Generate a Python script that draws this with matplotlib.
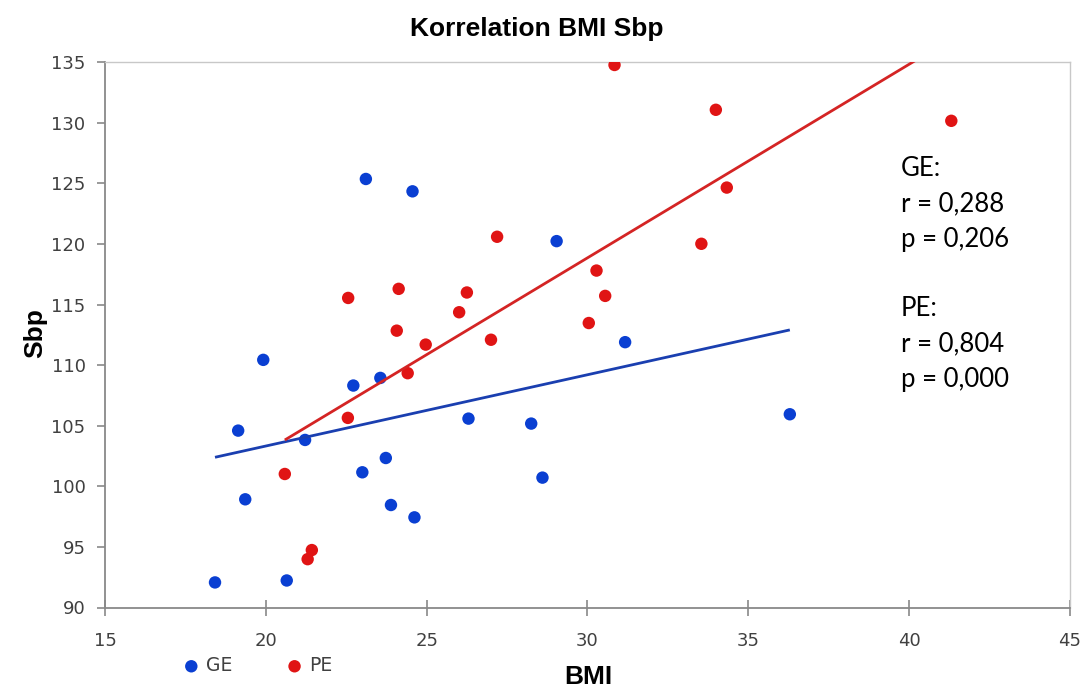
import numpy as np
import matplotlib
matplotlib.use("Agg")
import matplotlib.pyplot as plt

# ---- data ----
ge_bmi = [18.42, 19.14, 19.36, 19.92, 20.65, 21.22, 22.72, 23.00, 23.56, 23.73,
          23.89, 24.62, 26.30, 28.25, 28.60, 23.11, 24.56, 29.04, 31.17, 36.29]
ge_sbp = [92.07, 104.6, 98.93, 110.44, 92.23, 103.83, 108.32, 101.16, 108.95, 102.34,
          98.46, 97.44, 105.59, 105.18, 100.72, 125.37, 124.35, 120.24, 111.9, 105.95]

pe_bmi = [20.59, 21.30, 21.43, 22.55, 24.41, 24.97, 27.19, 22.56, 24.13, 26.25,
          26.01, 24.07, 27.00, 30.84, 33.99, 41.31, 34.33, 33.54, 30.28, 30.55, 30.04]
pe_sbp = [101.02, 93.99, 94.74, 105.65, 109.34, 111.7, 120.6, 115.55, 116.3, 116.0,
          114.37, 112.85, 112.1, 134.78, 131.08, 130.17, 124.66, 120.02, 117.81, 115.72, 113.48]

x_ticks = [15, 20, 25, 30, 35, 40, 45]
y_ticks = [90, 95, 100, 105, 110, 115, 120, 125, 130, 135]
stats_lines = ["GE:", "r = 0,288", "p = 0,206", "PE:", "r = 0,804", "p = 0,000"]

BLUE = "#0a3fd2"
RED = "#e01414"
BLUE_LINE = "#1a3fb0"
RED_LINE = "#d42424"

W, H = 1088, 688
fig = plt.figure(figsize=(W / 100, H / 100), dpi=100)
ax = fig.add_axes([105 / W, 1 - 607.5 / H, (1070 - 105) / W, (607.5 - 62.3) / H])

ax.scatter(ge_bmi, ge_sbp, s=80, color=BLUE, edgecolors="none", zorder=3, label="GE")
ax.scatter(pe_bmi, pe_sbp, s=80, color=RED, edgecolors="none", zorder=3, label="PE")

# linear trendlines spanning each series' x-range
for xs, ys, c in [(ge_bmi, ge_sbp, BLUE_LINE), (pe_bmi, pe_sbp, RED_LINE)]:
    xs = np.asarray(xs); ys = np.asarray(ys)
    m, b = np.polyfit(xs, ys, 1)
    xx = np.array([xs.min(), xs.max()])
    ax.plot(xx, m * xx + b, color=c, lw=2.0, zorder=4, solid_capstyle="butt")

ax.set_xlim(15, 45)
ax.set_ylim(90, 135)
ax.set_xticks(x_ticks)
ax.set_yticks(y_ticks)

tick_font = dict(family="DejaVu Sans", size=13)
ax.set_xticklabels([str(t) for t in x_ticks], **tick_font, color="#404040")
ax.set_yticklabels([str(t) for t in y_ticks], **tick_font, color="#404040")
ax.tick_params(axis="x", direction="inout", length=11, width=1.2, color="#898989", pad=12)
ax.tick_params(axis="y", direction="out", length=6, width=1.2, color="#898989", pad=8)

for s in ["left", "bottom"]:
    ax.spines[s].set_color("#898989")
    ax.spines[s].set_linewidth(1.3)
for s in ["top", "right"]:
    ax.spines[s].set_color("#c8c8c8")
    ax.spines[s].set_linewidth(1.0)

lab_font = dict(family="Liberation Sans", weight="bold", size=19)
fig.text(537 / W, 1 - 29 / H, "Korrelation BMI Sbp", ha="center", va="center", **lab_font)
fig.text(588 / W, 1 - 677 / H, "BMI", ha="center", va="center", **lab_font)
fig.text(35 / W, 1 - 333 / H, "Sbp", ha="center", va="center", rotation=90, **lab_font)

# stats annotation
ys_px = [168, 204, 240, 308, 344, 380]
for txt, yp in zip(stats_lines, ys_px):
    fig.text(901 / W, 1 - yp / H, txt, ha="left", va="center",
             family="Lato", size=18.5, color="#000000")

leg = ax.legend(loc="center left", bbox_to_anchor=(183.8 / W, 1 - 665.7 / H),
                bbox_transform=fig.transFigure, ncol=2, frameon=False,
                handlelength=0.8, handletextpad=0.4, columnspacing=2.9,
                borderpad=0, borderaxespad=0, prop=dict(family="DejaVu Sans", size=13.5))
for t in leg.get_texts():
    t.set_color("#404040")

fig.savefig("out.png", dpi=100)
